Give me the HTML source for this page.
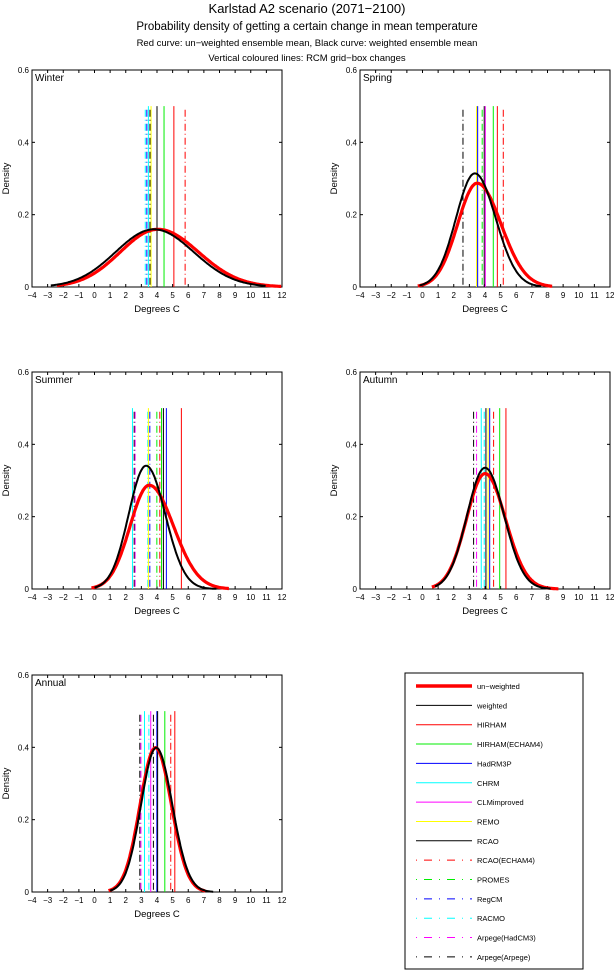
<!DOCTYPE html>
<html><head><meta charset="utf-8"><style>
body{margin:0;background:#fff;width:614px;height:970px;overflow:hidden}
svg{display:block;font-family:"Liberation Sans",sans-serif}
</style></head><body>
<svg id="s" width="614" height="970" xmlns="http://www.w3.org/2000/svg">
<text x="307" y="13" font-size="13" text-anchor="middle">Karlstad A2 scenario (2071−2100)</text>
<text x="307" y="30" font-size="11.5" text-anchor="middle">Probability density of getting a certain change in mean temperature</text>
<text x="307" y="46" font-size="9.5" text-anchor="middle">Red curve: un−weighted ensemble mean, Black curve: weighted ensemble mean</text>
<text x="307" y="61" font-size="9.5" text-anchor="middle">Vertical coloured lines: RCM grid−box changes</text>
</svg>
<script>
const S=document.getElementById('s');const NS='http://www.w3.org/2000/svg';
function el(t,a,txt){const e=document.createElementNS(NS,t);for(const k in a)e.setAttribute(k,a[k]);if(txt!==undefined)e.textContent=txt;S.appendChild(e);return e;}
const DD='7,3,1,3';
const C={r:'#ff0000',g:'#00ee00',b:'#0000ff',c:'#00ffff',m:'#ff00ff',y:'#ffff00',k:'#000'};
function panel(L,T,name,black,red,lines){
 const W=250,H=217,B=T+H;
 const X=v=>L+(v+4)/16*W, Y=d=>B-d/0.6*H;
 el('rect',{x:L,y:T,width:W,height:H,fill:'none',stroke:'#000','stroke-width':1});
 for(let i=-4;i<=12;i++){const x=X(i);
  el('line',{x1:x,y1:B,x2:x,y2:B-3,stroke:'#000'});el('line',{x1:x,y1:T,x2:x,y2:T+3,stroke:'#000'});
  el('text',{x:x,y:B+11,'font-size':8,'text-anchor':'middle'},i<0?'−'+(-i):i);}
 [0,0.2,0.4,0.6].forEach(d=>{const y=Y(d);
  el('line',{x1:L,y1:y,x2:L+3,y2:y,stroke:'#000'});el('line',{x1:L+W,y1:y,x2:L+W-3,y2:y,stroke:'#000'});
  el('text',{x:L-3,y:y+3,'font-size':8,'text-anchor':'end'},d===0?'0':d.toFixed(1));});
 el('text',{x:L+W/2,y:B+25,'font-size':9.5,'text-anchor':'middle'},'Degrees C');
 el('text',{x:L-23,y:T+H/2,'font-size':9.5,'text-anchor':'middle',transform:`rotate(-90 ${L-23} ${T+H/2})`},'Density');
 el('text',{x:L+3,y:T+11,'font-size':10},name);
 lines.forEach(([v,c,d])=>{const a={x1:X(v),y1:Y(d?0.49:0.5),x2:X(v),y2:B,stroke:C[c],'stroke-width':1};if(d)a['stroke-dasharray']=DD;el('line',a);});
 function curve([m,s,a,b,sk],col,w){let p='';for(let v=a;v<=b;v+=0.05){const ss=v>m?s*(1+sk):s*(1-sk);const pk=1/(s*Math.sqrt(2*Math.PI));const d=pk*Math.exp(-0.5*((v-m)/ss)**2);p+=(p?'L':'M')+X(v).toFixed(1)+','+Y(d).toFixed(1);}
  el('path',{d:p,fill:'none',stroke:col,'stroke-width':w});}
 curve(red,'#ff0000',3.2);curve(black,'#000',2);
}
panel(32,70,'Winter',[3.8,2.5,-2.8,11,0.02],[4.05,2.5,-2.4,12,0.04],
 [[3.25,'c',1],[3.35,'b',1],[3.45,'c'],[3.55,'k',1],[3.62,'y'],[4.0,'k'],[4.45,'g'],[5.08,'r'],[5.8,'r',1]]);
panel(360,70,'Spring',[3.35,1.27,-0.2,7.6,0.05],[3.5,1.39,-0.3,8.3,0.1],
 [[2.59,'k',1],[3.46,'y'],[3.53,'b'],[3.82,'g',1],[3.95,'k'],[4.02,'m'],[4.53,'g'],[4.79,'r'],[5.17,'r',1]]);
panel(32,372,'Summer',[3.3,1.17,0,7.8,0.05],[3.5,1.39,-0.2,8.6,0.12],
 [[2.43,'c'],[2.54,'k',1],[2.6,'m',1],[3.41,'c',1],[3.45,'y'],[3.54,'b',1],[3.99,'g',1],[4.18,'r',1],[4.29,'g'],[4.41,'k'],[4.6,'b'],[5.56,'r']]);
panel(360,372,'Autumn',[4.0,1.19,0.8,8.2,0.03],[4.0,1.25,0.6,8.7,0.05],
 [[3.27,'k',1],[3.46,'m',1],[3.76,'c'],[3.95,'c',1],[4.06,'k'],[4.2,'y'],[4.3,'b'],[4.55,'r',1],[4.94,'g'],[5.34,'r']]);
panel(32,675,'Annual',[3.95,1.0,1.0,7.6,0.03],[3.9,1.0,0.9,7.1,0.02],
 [[2.9,'k',1],[2.97,'m',1],[3.2,'c'],[3.48,'c',1],[3.6,'m'],[3.77,'k',1],[3.99,'b'],[4.04,'k'],[4.5,'g'],[4.88,'r',1],[5.14,'r']]);
el('rect',{x:405,y:673,width:178,height:296,fill:'none',stroke:'#000'});
const leg=[['un−weighted','r',0,3.5],['weighted','k',0,1],['HIRHAM','r'],['HIRHAM(ECHAM4)','g'],['HadRM3P','b'],['CHRM','c'],['CLMimproved','m'],['REMO','y'],['RCAO','k'],['RCAO(ECHAM4)','r',1],['PROMES','g',1],['RegCM','b',1],['RACMO','c',1],['Arpege(HadCM3)','m',1],['Arpege(Arpege)','k',1]];
leg.forEach((e,i)=>{const y=686+i*19.35;const a={x1:416,y1:y,x2:472,y2:y,stroke:C[e[1]],'stroke-width':e[3]||1};if(e[2])a['stroke-dasharray']='1,7,8,7';el('line',a);
 el('text',{x:477,y:y+3,'font-size':7.5},e[0]);});
</script>
</body></html>
